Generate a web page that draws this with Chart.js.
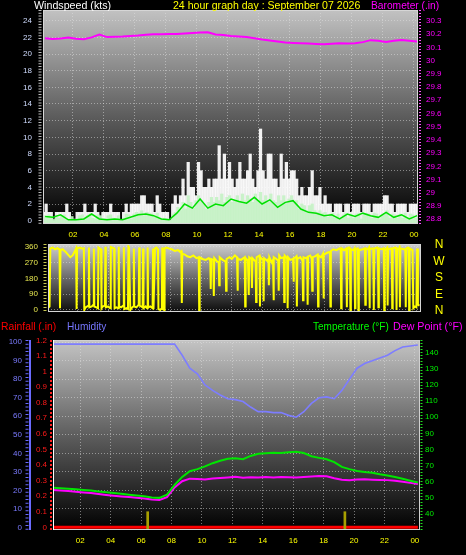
<!DOCTYPE html>
<html>
<head>
<meta charset="utf-8">
<title>24 hour graph</title>
<script src="https://cdn.jsdelivr.net/npm/chart.js@4.4.1/dist/chart.umd.min.js"></script>
<style>
  html, body { margin: 0; padding: 0; background: #000; overflow: hidden; }
  #page { position: relative; width: 466px; height: 555px; background: #000; }
  #page canvas { position: absolute; left: 0; }
  .lbl { position: absolute; white-space: nowrap; font: 11px/11px 'Liberation Sans', Arial, sans-serif; transform-origin: 0 0; }
  .nsew { position: absolute; left: 433px; width: 12px; text-align: center; font: 12px/12px 'Liberation Sans', Arial, sans-serif; color: #ffff00; }
</style>
</head>
<body>
<div id="page">
  <canvas id="windChart" width="466" height="240" style="top:0"></canvas>
  <canvas id="dirChart" width="466" height="76" style="top:240px"></canvas>
  <canvas id="climateChart" width="466" height="239" style="top:316px"></canvas>

  <div class="lbl" style="left:34px;top:0;color:#ffffff;transform:scaleX(0.97)">Windspeed (kts)</div>
  <div class="lbl" style="left:173px;top:0;color:#ffff00;transform:scaleX(0.96)">24 hour graph day : September 07 2026</div>
  <div class="lbl" style="left:371px;top:0;color:#ff00ff;transform:scaleX(0.93)">Barometer (.in)</div>

  <div class="nsew" style="top:238px">N</div>
  <div class="nsew" style="top:255px">W</div>
  <div class="nsew" style="top:271px">S</div>
  <div class="nsew" style="top:288px">E</div>
  <div class="nsew" style="top:304px">N</div>

  <div class="lbl" style="left:1px;top:321px;color:#ff0000;transform:scaleX(0.94)">Rainfall (.in)</div>
  <div class="lbl" style="left:67px;top:321px;color:#7777ff;transform:scaleX(0.92)">Humidity</div>
  <div class="lbl" style="left:313px;top:321px;color:#00ff00;transform:scaleX(0.91)">Temperature (&deg;F)</div>
  <div class="lbl" style="left:393px;top:321px;color:#ff00ff;transform:scaleX(0.97)">Dew Point (&deg;F)</div>
</div>

<script>
const FONT = "'Liberation Sans', Arial, sans-serif";

// x values are hours since midnight
const hourTicks = [2, 4, 6, 8, 10, 12, 14, 16, 18, 20, 22, 24];
const hourLabels = ['02', '04', '06', '08', '10', '12', '14', '16', '18', '20', '22', '00'];

const WIND_START = 0.1, WIND_STEP = 1 / 6;  // 10 minute samples
const SLOW_START = 0.2, SLOW_STEP = 0.5;    // half hour samples

const windTicks = [0, 2, 4, 6, 8, 10, 12, 14, 16, 18, 20, 22, 24];
const baroTicks = [28.8, 28.9, 29.0, 29.1, 29.2, 29.3, 29.4, 29.5, 29.6, 29.7, 29.8, 29.9, 30.0, 30.1, 30.2, 30.3];
const baroLabels = ['28.8', '28.9', '29', '29.1', '29.2', '29.3', '29.4', '29.5', '29.6', '29.7', '29.8', '29.9', '30', '30.1', '30.2', '30.3'];
const dirTicks = [0, 90, 180, 270, 360];
const humTicks = [0, 10, 20, 30, 40, 50, 60, 70, 80, 90, 100];
const rainTicks = [0, 0.1, 0.2, 0.3, 0.4, 0.5, 0.6, 0.7, 0.8, 0.9, 1.0, 1.1, 1.2];
const rainLabels = ['0', '0.1', '0.2', '0.3', '0.4', '0.5', '0.6', '0.7', '0.8', '0.9', '1', '1.1', '1.2'];
const tempTicks = [40, 50, 60, 70, 80, 90, 100, 110, 120, 130, 140];

// gusts, 10 min (kts)
const windGustKts = [
  1, 2, 1, 1, 0, 1,
  1, 1, 1, 2, 1, 0,
  0, 1, 1, 1, 2, 1,
  1, 1, 2, 1, 0, 1,
  1, 1, 2, 1, 1, 1,
  0, 1, 2, 1, 2, 2,
  2, 2, 3, 3, 2, 2,
  2, 1, 3, 2, 1, 1,
  1, 0, 2, 3, 2, 3,
  5, 3, 7, 4, 4, 3,
  7, 6, 4, 4, 5, 4,
  5, 5, 9, 5, 8, 5,
  7, 5, 4, 5, 7, 5,
  5, 6, 8, 5, 4, 6,
  11, 6, 5, 8, 8, 5,
  5, 4, 8, 5, 7, 5,
  6, 6, 5, 3, 4, 3,
  3, 4, 6, 3, 3, 4,
  2, 3, 2, 2, 1, 2,
  2, 2, 1, 2, 2, 1,
  2, 2, 2, 1, 2, 2,
  2, 1, 2, 2, 2, 2,
  3, 3, 2, 2, 1, 2,
  2, 2, 2, 1, 2, 2,
  2, 2
];

// wind speed, 10 min (kts)
const windSpeedKts = [
  0.6, 0.3, 0.7, 0.5, 0.2, 0.4,
  0.3, 0.6, 0.7, 0.2, 0.1, 0.5,
  0.2, 0.1, 0.6, 0.7, 0.2, 0.6,
  0.8, 0.3, 0.2, 0.7, 0.6, 0.2,
  0.2, 0.6, 0.7, 0.3, 0.2, 0.6,
  0.1, 0.3, 0.8, 0.7, 0.2, 0.8,
  1.0, 0.9, 1.2, 0.6, 1.0, 0.9,
  0.8, 0.4, 0.9, 0.3, 0.2, 0.3,
  0.2, 0.1, 0.8, 1.0, 1.6, 1.2,
  2.2, 1.4, 3.0, 2.2, 1.5, 2.4,
  3.0, 2.4, 2.0, 1.4, 2.2, 2.8,
  2.2, 2.8, 2.4, 3.2, 2.2, 2.8,
  3.0, 2.2, 2.4, 3.0, 2.4, 3.2,
  2.4, 3.0, 2.6, 2.2, 3.2, 2.4,
  3.4, 2.4, 3.0, 2.2, 3.2, 2.4,
  2.2, 3.0, 2.4, 3.0, 2.2, 2.6,
  3.0, 2.2, 2.4, 1.4, 2.0, 1.8,
  1.2, 1.8, 2.0, 1.2, 1.0, 1.2,
  0.9, 1.0, 0.4, 0.8, 0.9, 0.3,
  0.8, 0.2, 0.7, 0.9, 0.3, 0.8,
  0.3, 0.8, 0.9, 0.2, 0.8, 0.9,
  0.8, 0.3, 0.9, 0.8, 0.2, 0.7,
  0.9, 1.2, 0.3, 0.8, 0.7, 0.3,
  0.8, 0.3, 0.9, 0.2, 0.8, 0.7,
  0.3, 0.8
];

// wind direction: readings (hour of day) and degrees
const windDirHours = [
  0.08, 0.15, 0.2, 0.35, 0.5, 0.65, 0.8, 0.83, 0.86, 1.0, 1.2, 1.35, 1.5, 1.65, 1.8, 1.88, 1.91, 1.94,
  2.1, 2.3, 2.38, 2.41, 2.5, 2.6, 2.68, 2.71, 2.74, 2.9, 3.0, 3.03, 3.06, 3.2, 3.3, 3.33, 3.4, 3.5,
  3.53, 3.6, 3.75, 3.78, 3.81, 3.95, 4.1, 4.13, 4.2, 4.35, 4.38, 4.5, 4.62, 4.65, 4.68, 4.8, 4.95, 4.98,
  5.01, 5.15, 5.25, 5.28, 5.31, 5.4, 5.52, 5.6, 5.63, 5.66, 5.8, 5.95, 5.98, 6.01, 6.1, 6.2, 6.23, 6.26,
  6.4, 6.5, 6.53, 6.56, 6.7, 6.85, 6.88, 6.91, 7.0, 7.1, 7.2, 7.23, 7.35, 7.45, 7.48, 7.51, 7.6, 7.63,
  7.75, 7.9, 8.1, 8.3, 8.5, 8.65, 8.72, 8.75, 8.78, 8.95, 9.1, 9.3, 9.5, 9.7, 9.85, 9.88, 9.91, 10.1,
  10.3, 10.5, 10.6, 10.63, 10.66, 10.8, 10.83, 10.86, 11.0, 11.15, 11.18, 11.21, 11.4, 11.6, 11.63, 11.66, 11.85, 12.0,
  12.2, 12.34, 12.37, 12.4, 12.6, 12.84, 12.87, 12.9, 13.05, 13.1, 13.13, 13.28, 13.31, 13.34, 13.55, 13.58, 13.61, 13.8,
  13.83, 13.86, 14.04, 14.07, 14.1, 14.3, 14.38, 14.41, 14.44, 14.6, 14.68, 14.71, 14.74, 14.9, 15.02, 15.05, 15.08, 15.2,
  15.38, 15.41, 15.44, 15.55, 15.6, 15.63, 15.66, 15.8, 15.98, 16.01, 16.04, 16.15, 16.2, 16.23, 16.26, 16.45, 16.6, 16.63,
  16.66, 16.8, 16.9, 16.93, 16.96, 17.1, 17.2, 17.23, 17.26, 17.4, 17.58, 17.61, 17.64, 17.8, 17.93, 17.96, 17.99, 18.2,
  18.38, 18.41, 18.44, 18.6, 18.8, 19.0, 19.08, 19.11, 19.14, 19.3, 19.45, 19.48, 19.51, 19.62, 19.68, 19.71, 19.74, 19.9,
  19.98, 20.01, 20.04, 20.15, 20.2, 20.23, 20.26, 20.5, 20.65, 20.68, 20.71, 20.85, 20.92, 20.95, 20.98, 21.15, 21.2, 21.23,
  21.26, 21.45, 21.5, 21.53, 21.56, 21.75, 21.88, 21.91, 21.94, 22.05, 22.1, 22.13, 22.16, 22.35, 22.4, 22.43, 22.46, 22.62,
  22.68, 22.71, 22.74, 22.85, 22.9, 22.93, 22.96, 23.2, 23.28, 23.31, 23.34, 23.45, 23.5, 23.53, 23.56, 23.75, 23.8, 23.9,
  24.0, 24.05, 24.1, 24.2
];
const windDirDeg = [
  15, 20, 350, 355, 345, 352, 345, 10, 340, 345, 330, 315, 300, 310, 335, 350, 5, 350,
  355, 348, 350, 0, 15, 20, 25, 355, 15, 20, 30, 350, 20, 15, 10, 355, 350, 345,
  10, 20, 25, 360, 15, 20, 10, 358, 355, 350, 10, 15, 10, 360, 20, 15, 25, 355,
  5, 10, 5, 360, 355, 0, 15, 20, 350, 20, 15, 30, 355, 25, 20, 15, 350, 10,
  20, 10, 355, 15, 20, 10, 350, 5, 350, 355, 345, 5, 0, 10, 355, 5, 0, 350,
  355, 350, 345, 335, 340, 330, 335, 40, 320, 315, 305, 300, 310, 295, 300, 0, 300, 290,
  285, 295, 280, 120, 290, 285, 80, 295, 280, 270, 140, 300, 285, 275, 110, 290, 300, 290,
  310, 300, 110, 290, 285, 300, 20, 295, 280, 85, 300, 290, 125, 295, 275, 45, 300, 310,
  20, 300, 285, 50, 295, 280, 290, 140, 300, 270, 285, 55, 300, 290, 280, 110, 310, 295,
  300, 45, 310, 300, 290, 10, 300, 285, 290, 160, 295, 300, 305, 20, 290, 300, 280, 55,
  300, 295, 300, 30, 305, 310, 290, 110, 300, 305, 315, 20, 310, 300, 320, 65, 315, 325,
  330, 20, 335, 345, 340, 350, 345, 10, 350, 340, 350, 15, 345, 355, 350, 0, 345, 340,
  350, 10, 345, 350, 355, 0, 340, 345, 350, 30, 350, 345, 355, 10, 345, 350, 345, 0,
  350, 355, 340, 15, 350, 345, 350, 0, 340, 350, 355, 25, 345, 350, 340, 10, 350, 355,
  345, 0, 350, 345, 355, 15, 350, 345, 340, 15, 350, 355, 345, 0, 350, 340, 10, 20,
  15, 350, 30, 25
];

// half hour series, 00:12 .. 24:12
const windAvgKts = [
  0.5, 0.4, 0.7, 0.1, 0.1, 0.2, 0.8, 0.2, 0.1, 0.2,
  0.1, 0.4, 0.7, 0.8, 0.6, 0.2, 0.1, 0.9, 2.0, 1.5,
  2.6, 1.5, 2.0, 1.8, 2.6, 2.3, 2.1, 2.8, 2.0, 2.5,
  1.6, 2.2, 2.4, 1.4, 1.0, 0.9, 0.6, 0.7, 0.2, 0.8,
  0.5, 0.9, 0.6, 0.4, 1.0, 0.4, 0.7, 0.2, 0.6
];

const baroIn = [
  30.169, 30.164, 30.168, 30.174, 30.165, 30.162, 30.176, 30.198, 30.178, 30.180,
  30.182, 30.186, 30.190, 30.196, 30.200, 30.199, 30.201, 30.202, 30.205, 30.209,
  30.212, 30.214, 30.198, 30.193, 30.187, 30.183, 30.178, 30.170, 30.160, 30.152,
  30.145, 30.138, 30.134, 30.131, 30.129, 30.126, 30.124, 30.128, 30.131, 30.130,
  30.131, 30.140, 30.155, 30.150, 30.141, 30.150, 30.156, 30.150, 30.144
];

const tempF = [
  56.3, 56.0, 55.6, 55.3, 54.9, 54.6, 54.0, 53.5, 53.0, 52.5,
  52.0, 51.5, 51.0, 50.3, 50.0, 52.0, 58.0, 63.0, 66.5, 67.8,
  69.5, 71.5, 73.0, 74.2, 74.5, 74.0, 76.0, 77.3, 77.6, 78.0,
  77.8, 78.3, 78.6, 77.8, 75.8, 74.8, 73.9, 72.2, 69.2, 67.8,
  66.6, 66.0, 65.6, 64.6, 63.8, 62.9, 61.8, 60.6, 59.5
];

const dewPointF = [
  54.9, 54.6, 54.2, 53.8, 53.4, 53.0, 52.4, 51.8, 51.3, 50.9,
  50.5, 50.0, 49.6, 49.0, 48.7, 50.5, 56.5, 60.3, 61.9, 61.7,
  61.4, 62.0, 62.3, 62.7, 63.1, 62.5, 62.8, 62.6, 62.9, 62.7,
  62.9, 62.8, 62.7, 63.0, 63.3, 63.6, 63.4, 62.2, 61.2, 61.0,
  61.4, 61.5, 61.3, 61.1, 61.0, 60.6, 60.0, 59.3, 58.6
];

const humidityPct = [
  99, 99, 99, 99, 99, 99, 99, 99, 99, 99,
  99, 99, 99, 99, 99, 99, 99, 93, 86, 83,
  77, 74, 71.5, 69.5, 69, 68, 65, 62.5, 62.5, 62,
  62, 60.5, 59.5, 62.5, 67, 70, 70.5, 69.5, 74, 80,
  86, 88.5, 90, 91.5, 93, 95.5, 97.5, 98, 98.5
];

const rainfallIn = [
  0, 0, 0, 0, 0, 0, 0, 0, 0, 0,
  0, 0, 0, 0, 0, 0, 0, 0, 0, 0,
  0, 0, 0, 0, 0, 0, 0, 0, 0, 0,
  0, 0, 0, 0, 0, 0, 0, 0, 0, 0,
  0, 0, 0, 0, 0, 0, 0, 0, 0
];

const rainMarkHours = [6.43, 19.4];
const rainMarkIn = [0.1, 0.1];

function series(start, step, values) {
  return values.map((v, i) => ({ x: start + i * step, y: v }));
}
function pairs(xs, ys) {
  return xs.map((x, i) => ({ x, y: ys[i] }));
}
function fixedTicks(values) {
  return scale => { scale.ticks = values.map(v => ({ value: v })); };
}
// fixed axis width, and no extra label padding pushed into the plot area
function fixedWidth(w) {
  return scale => { scale.width = w; scale.paddingTop = 0; scale.paddingBottom = 0; };
}
function fixedHeight(h) { return scale => { scale.height = h; }; }

const tickFont = { family: FONT, size: 8, lineHeight: 1 };
const gridDots = { color: 'rgba(225,225,225,0.5)', drawTicks: false };
const dotBorder = { display: false, dash: [1, 2] };

// gradient fill behind the plot, frame and axis rulers on top
const plotDecor = {
  id: 'plotDecor',
  beforeDraw(chart, args, opts) {
    const { ctx, chartArea: a } = chart;
    const g = ctx.createLinearGradient(0, a.top, 0, a.bottom);
    g.addColorStop(0, opts.top);
    g.addColorStop(0.5, opts.mid);
    g.addColorStop(1, opts.bottom);
    ctx.save();
    ctx.fillStyle = g;
    ctx.fillRect(a.left, a.top, a.right - a.left, a.bottom - a.top);
    ctx.restore();
  },
  afterDraw(chart, args, opts) {
    const { ctx, chartArea: a } = chart;
    ctx.save();
    ctx.strokeStyle = opts.frame;
    ctx.lineWidth = 1;
    ctx.strokeRect(a.left + 0.5, a.top + 0.5, a.right - a.left - 1, a.bottom - a.top - 1);
    (opts.rules || []).forEach(r => {
      ctx.beginPath();
      ctx.strokeStyle = r.color;
      ctx.lineWidth = r.width;
      ctx.setLineDash(r.dash || []);
      ctx.moveTo(r.x, a.top);
      ctx.lineTo(r.x, a.bottom);
      ctx.stroke();
    });
    ctx.restore();
  }
};

const basePlugins = {
  legend: { display: false },
  tooltip: { enabled: false }
};

function hourAxis(min, max, showLabels, height) {
  return {
    type: 'linear', min, max, offset: false,
    afterBuildTicks: fixedTicks(hourTicks),
    afterFit: fixedHeight(height),
    ticks: {
      display: showLabels, color: '#ffff00', font: tickFont, padding: 7,
      autoSkip: false, maxRotation: 0,
      callback: (v, i) => hourLabels[i]
    },
    grid: Object.assign({ offset: false }, gridDots),
    border: dotBorder
  };
}

// windspeed + barometer
new Chart(document.getElementById('windChart'), {
  type: 'bar',
  plugins: [plotDecor],
  data: {
    datasets: [
      {
        type: 'line', label: 'Barometer', yAxisID: 'yb',
        data: series(SLOW_START, SLOW_STEP, baroIn),
        borderColor: '#ff00ff', borderWidth: 2, pointRadius: 0
      },
      {
        type: 'line', label: 'Average', yAxisID: 'y',
        data: series(SLOW_START, SLOW_STEP, windAvgKts),
        borderColor: '#00e000', borderWidth: 1.5, pointRadius: 0
      },
      {
        type: 'bar', label: 'Wind speed', yAxisID: 'y',
        data: series(WIND_START, WIND_STEP, windSpeedKts),
        backgroundColor: 'rgba(196,242,196,0.9)', base: -0.4,
        grouped: false, barPercentage: 1, categoryPercentage: 1
      },
      {
        type: 'bar', label: 'Gust', yAxisID: 'y',
        data: series(WIND_START, WIND_STEP, windGustKts),
        backgroundColor: 'rgba(255,255,255,0.93)', base: -0.4,
        grouped: false, barPercentage: 1, categoryPercentage: 1
      }
    ]
  },
  options: {
    responsive: false, animation: false,
    layout: { padding: { top: 10, left: 0, right: 0, bottom: 0 } },
    plugins: Object.assign({
      plotDecor: {
        top: '#c2c2c2', mid: '#5c5c5c', bottom: '#000000', frame: '#d6d6d6',
        rules: [
          { x: 40, width: 3, color: '#bdbdbd', dash: [1, 1.8] },
          { x: 420, width: 2, color: '#ff55ff', dash: [1, 2] }
        ]
      }
    }, basePlugins),
    scales: {
      x: hourAxis(0.065, 24.26, true, 16),
      y: {
        position: 'left', min: -0.4, max: 25.28,
        afterBuildTicks: fixedTicks(windTicks), afterFit: fixedWidth(43),
        ticks: { color: '#d0dcff', font: tickFont, padding: 11, autoSkip: false },
        grid: gridDots, border: dotBorder
      },
      yb: {
        position: 'right', min: 28.764, max: 30.383,
        afterBuildTicks: fixedTicks(baroTicks), afterFit: fixedWidth(48),
        ticks: { color: '#ff00ff', font: tickFont, padding: 8, autoSkip: false, callback: (v, i) => baroLabels[i] },
        grid: { drawOnChartArea: false, drawTicks: false }, border: { display: false }
      }
    }
  }
});

// wind direction
new Chart(document.getElementById('dirChart'), {
  type: 'line',
  plugins: [plotDecor],
  data: {
    datasets: [{
      label: 'Direction',
      data: pairs(windDirHours, windDirDeg),
      borderColor: '#ffff00', borderWidth: 2, pointRadius: 0
    }]
  },
  options: {
    responsive: false, animation: false,
    layout: { padding: { top: 4, left: 0, right: 45, bottom: 0 } },
    plugins: Object.assign({
      plotDecor: {
        top: '#cfcfcf', mid: '#6a6a6a', bottom: '#0c0c0c', frame: '#d6d6d6',
        rules: [{ x: 45, width: 3, color: '#c8c850', dash: [1, 2] }]
      }
    }, basePlugins),
    scales: {
      x: hourAxis(0.05, 24.3, false, 4),
      y: {
        min: -11.4, max: 375,
        afterBuildTicks: fixedTicks(dirTicks), afterFit: fixedWidth(48),
        ticks: { color: '#e6e650', font: tickFont, padding: 10, autoSkip: false },
        grid: gridDots, border: dotBorder
      }
    }
  }
});

// rainfall, humidity, temperature, dew point
new Chart(document.getElementById('climateChart'), {
  type: 'bar',
  plugins: [plotDecor],
  data: {
    datasets: [
      {
        type: 'bar', label: 'Rain', yAxisID: 'yr',
        data: pairs(rainMarkHours, rainMarkIn),
        backgroundColor: '#a8a000', barThickness: 2, base: -0.0173, grouped: false
      },
      {
        type: 'line', label: 'Rainfall', yAxisID: 'yr',
        data: series(SLOW_START, SLOW_STEP, rainfallIn),
        borderColor: '#ff0000', borderWidth: 3, pointRadius: 0
      },
      {
        type: 'line', label: 'Humidity', yAxisID: 'yh',
        data: series(SLOW_START, SLOW_STEP, humidityPct),
        borderColor: '#7d7dff', borderWidth: 1.6, pointRadius: 0
      },
      {
        type: 'line', label: 'Temperature', yAxisID: 'yt',
        data: series(SLOW_START, SLOW_STEP, tempF),
        borderColor: '#00e600', borderWidth: 2, pointRadius: 0
      },
      {
        type: 'line', label: 'Dew Point', yAxisID: 'yt',
        data: series(SLOW_START, SLOW_STEP, dewPointF),
        borderColor: '#ff00ff', borderWidth: 2, pointRadius: 0
      }
    ]
  },
  options: {
    responsive: false, animation: false,
    layout: { padding: { top: 24, left: 0, right: 0, bottom: 0 } },
    plugins: Object.assign({
      plotDecor: {
        top: '#c4c4c4', mid: '#5e5e5e', bottom: '#000000', frame: '#d0d0d0',
        rules: [
          { x: 30, width: 2, color: '#6b6bff' },
          { x: 27, width: 3, color: '#6b6bff', dash: [1, 2.7] },
          { x: 51, width: 2, color: '#ff2020', dash: [2, 2] },
          { x: 53.5, width: 1, color: '#ffffff' },
          { x: 421.5, width: 2, color: '#22dd22', dash: [1, 2] }
        ]
      }
    }, basePlugins),
    scales: {
      x: hourAxis(0.204, 24.34, true, 25),
      yh: {
        position: 'left', weight: 1, min: -1.46, max: 101.24,
        afterBuildTicks: fixedTicks(humTicks), afterFit: fixedWidth(31),
        ticks: { color: '#7b7bff', font: tickFont, padding: 9, autoSkip: false },
        grid: gridDots, border: dotBorder
      },
      yr: {
        position: 'left', weight: 0, min: -0.0173, max: 1.202,
        afterBuildTicks: fixedTicks(rainTicks), afterFit: fixedWidth(22),
        ticks: { color: '#ff1a1a', font: tickFont, padding: 6, autoSkip: false, callback: (v, i) => rainLabels[i] },
        grid: { drawOnChartArea: false, drawTicks: false }, border: { display: false }
      },
      yt: {
        position: 'right', min: 30.08, max: 147.87,
        afterBuildTicks: fixedTicks(tempTicks), afterFit: fixedWidth(46),
        ticks: { color: '#00ee00', font: tickFont, padding: 5, autoSkip: false },
        grid: { drawOnChartArea: false, drawTicks: false }, border: { display: false }
      }
    }
  }
});
</script>
</body>
</html>
